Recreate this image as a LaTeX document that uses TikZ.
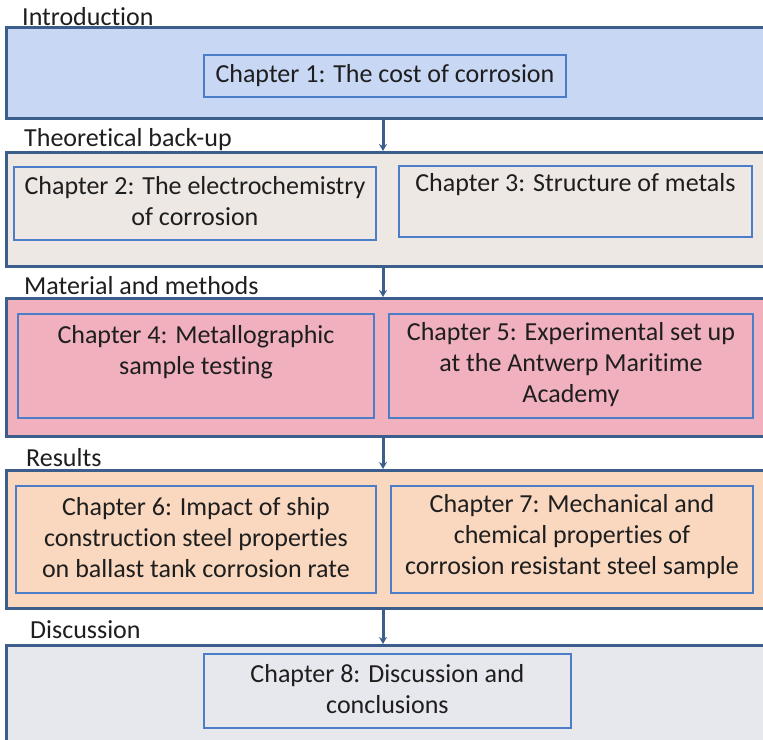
\documentclass[tikz,border=0pt]{standalone}
\usepackage{fontspec}
\setmainfont[Ligatures={NoCommon}]{Carlito}
\usetikzlibrary{arrows.meta}
\definecolor{outerline}{HTML}{3B5E8C}
\definecolor{innerline}{HTML}{4C7DC8}
\definecolor{fillA}{HTML}{C7D7F4}
\definecolor{fillB}{HTML}{EEE8E4}
\definecolor{fillC}{HTML}{F1B0BD}
\definecolor{fillD}{HTML}{FAD8C0}
\definecolor{fillE}{HTML}{E7E7EE}
\definecolor{txt}{HTML}{1E1E1E}
\tikzset{
  section/.style={draw=outerline, line width=2.6pt, inner sep=0pt, anchor=north west},
  chapbox/.style={draw=innerline, line width=1.9pt, inner sep=0pt, anchor=north west},
  chaptext/.style={anchor=north, align=center, text=txt, font=\fontsize{26}{31}\selectfont, inner sep=0pt},
  seclabel/.style={anchor=west, text=txt, font=\fontsize{26}{30}\selectfont, inner sep=0pt},
  arr/.style={draw=outerline, line width=3pt, -{Stealth[length=7pt,width=8pt]}}
}
\begin{document}
\begin{tikzpicture}[x=1pt,y=-1pt]
\useasboundingbox (0,0) rectangle (763,739);
\clip (0,0) rectangle (763,739);
\fill[white] (0,0) rectangle (763,739);
% sections
\node[section, fill=fillA, minimum width=775pt, minimum height=91pt] (s1) at (5,26) {};
\node[section, fill=fillB, minimum width=775pt, minimum height=114pt] (s2) at (5,151) {};
\node[section, fill=fillC, minimum width=775pt, minimum height=138pt] (s3) at (5,297) {};
\node[section, fill=fillD, minimum width=775pt, minimum height=138pt] (s4) at (5,469) {};
\node[section, fill=fillE, minimum width=775pt, minimum height=110pt] (s5) at (5,644) {};
% labels
\node[seclabel] (l1) at (22,17) {Introduction};
\node[seclabel] (l2) at (24,140) {Theoretical back-up};
\node[seclabel] (l3) at (24,286) {Material and methods};
\node[seclabel] (l4) at (26,458) {Results};
\node[seclabel] (l5) at (30,630) {Discussion};
% chapter boxes
\node[chapbox, minimum width=362pt, minimum height=42pt] (c1) at (203,54) {};
\node[chapbox, minimum width=362pt, minimum height=73pt] (c2) at (13,166) {};
\node[chapbox, minimum width=353pt, minimum height=71pt] (c3) at (398,165) {};
\node[chapbox, minimum width=356pt, minimum height=104pt] (c4) at (17,313) {};
\node[chapbox, minimum width=364pt, minimum height=104pt] (c5) at (388,313) {};
\node[chapbox, minimum width=360pt, minimum height=107pt] (c6) at (15,485) {};
\node[chapbox, minimum width=362pt, minimum height=107pt] (c7) at (390,485) {};
\node[chapbox, minimum width=367pt, minimum height=74pt] (c8) at (203,653) {};
% chapter texts
\node[chaptext] (t1) at ([yshift=-10.5pt]c1.north) {Chapter 1: The cost of corrosion};
\node[chaptext] (t2) at ([yshift=-10.5pt]c2.north) {Chapter 2: The electrochemistry\\of corrosion};
\node[chaptext] (t3) at ([yshift=-8.5pt]c3.north) {Chapter 3: Structure of metals};
\node[chaptext] (t4) at ([yshift=-12.5pt]c4.north) {Chapter 4: Metallographic\\sample testing};
\node[chaptext] (t5) at ([yshift=-9.5pt]c5.north) {Chapter 5: Experimental set up\\at the Antwerp Maritime\\Academy};
\node[chaptext] (t6) at ([yshift=-12.5pt]c6.north) {Chapter 6: Impact of ship\\construction steel properties\\on ballast tank corrosion rate};
\node[chaptext] (t7) at ([yshift=-9.5pt]c7.north) {Chapter 7: Mechanical and\\chemical properties of\\corrosion resistant steel sample};
\node[chaptext] (t8) at ([yshift=-11.5pt]c8.north) {Chapter 8: Discussion and\\conclusions};
% connectors
\coordinate (ax) at (383,0);
\draw[arr] (s1.south -| ax) -- (s2.north -| ax);
\draw[arr] (s2.south -| ax) -- (s3.north -| ax);
\draw[arr] (s3.south -| ax) -- (s4.north -| ax);
\draw[arr] (s4.south -| ax) -- (s5.north -| ax);
\end{tikzpicture}
\end{document}
